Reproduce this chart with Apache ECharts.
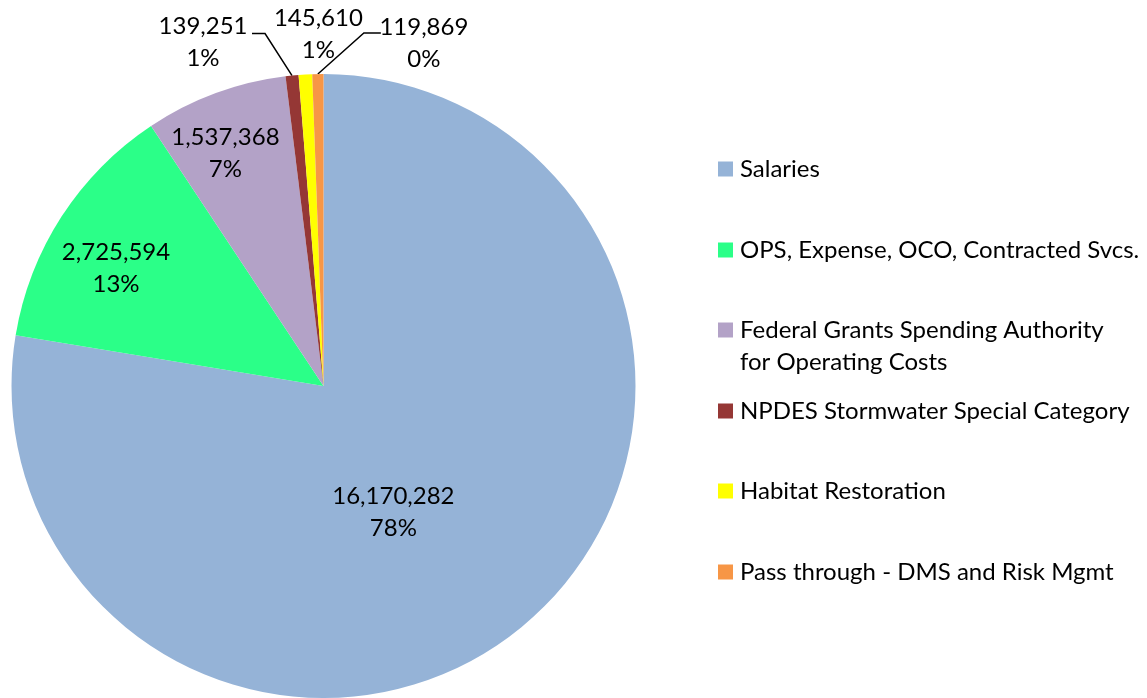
<!DOCTYPE html>
<html>
<head>
<meta charset="utf-8" />
<title>Budget Pie</title>
<script src="https://cdn.jsdelivr.net/npm/echarts@6.0.0/dist/echarts.min.js"></script>
<style>
  html, body { margin: 0; padding: 0; background: #fff; }
  #main { width: 1147px; height: 698px; }
</style>
</head>
<body>
<div id="main"></div>
<script>
  // chart data
  var categories = [
    'Salaries',
    'OPS, Expense, OCO, Contracted Svcs.',
    'Federal Grants Spending Authority for Operating Costs',
    'NPDES Stormwater Special Category',
    'Habitat Restoration',
    'Pass through - DMS and Risk Mgmt'
  ];
  var amounts = [16170282, 2725594, 1537368, 139251, 145610, 119869];
  var colors = ['#95B3D7', '#2BFF88', '#B3A2C7', '#953735', '#FFFF00', '#F79646'];

  var font = 'Lato';
  var chart = echarts.init(document.getElementById('main'));

  // label offsets (inside labels: shift from default; outside: from slice edge)
  var insideShift = { 0: [-33, 5], 1: [-74, -31], 2: [-43, -84] };
  var outsideShift = {
    3: { label: [-89, -33], line: [[-27, -42], [-40, -42]] },
    4: { label: [13, -40], line: null },
    5: { label: [106, -31], line: [[46, -41], [63, -41]] }
  };

  var pieData = categories.map(function (name, i) {
    var item = { name: name, value: amounts[i], itemStyle: { color: colors[i] } };
    if (i >= 3) {
      item.label = { position: 'outside' };
      item.labelLine = { show: true, lineStyle: { color: '#000', width: 1.5, opacity: i === 4 ? 0 : 1 } };
    }
    return item;
  });

  // one legend per row so rows sit where the original has them
  var legendRows = [169, 250, 330, 411, 491, 572];
  var legends = categories.map(function (name, i) {
    var twoLine = name.indexOf('Federal') === 0;
    return {
      data: [name],
      orient: 'vertical',
      left: 718,
      top: legendRows[i] - (twoLine ? 48 : 16),
      padding: 0,
      icon: 'rect',
      itemWidth: 15,
      itemHeight: 15,
      selectedMode: false,
      formatter: function (n) {
        // empty first line keeps the marker beside the first text line
        return n.indexOf('Federal') === 0 ? '\n' + n.replace('Authority for', 'Authority\nfor') : n;
      },
      textStyle: {
        fontFamily: font,
        fontSize: 24,
        color: '#000',
        lineHeight: 32,
        padding: [0, 0, 0, 2]
      }
    };
  });

  var option = {
    animation: false,
    legend: legends,
    series: [
      {
        type: 'pie',
        center: [323.5, 386],
        radius: 312,
        startAngle: 90,
        clockwise: true,
        avoidLabelOverlap: false,
        minShowLabelAngle: 0,
        percentPrecision: 0,
        silent: true,
        data: pieData,
        label: {
          show: true,
          position: 'inside',
          fontFamily: font,
          fontSize: 24,
          lineHeight: 32,
          color: '#000',
          align: 'center',
          formatter: function (p) {
            return echarts.format.addCommas(p.value) + '\n' + Math.round(p.percent) + '%';
          }
        },
        labelLine: { show: false },
        labelLayout: function (p) {
          var i = p.dataIndex;
          if (insideShift[i]) {
            return { dx: insideShift[i][0], dy: insideShift[i][1] };
          }
          var o = outsideShift[i];
          var pts = p.labelLinePoints;
          if (!o || !pts) return {};
          var e = pts[0];
          var res = {
            x: e[0] + o.label[0],
            y: e[1] + o.label[1],
            align: 'center',
            verticalAlign: 'middle'
          };
          if (o.line) {
            res.labelLinePoints = [
              [e[0], e[1]],
              [e[0] + o.line[0][0], e[1] + o.line[0][1]],
              [e[0] + o.line[1][0], e[1] + o.line[1][1]]
            ];
          } else {
            res.labelLinePoints = [[e[0], e[1]], [e[0], e[1]], [e[0], e[1]]];
          }
          return res;
        }
      }
    ]
  };

  chart.setOption(option);
</script>
</body>
</html>
